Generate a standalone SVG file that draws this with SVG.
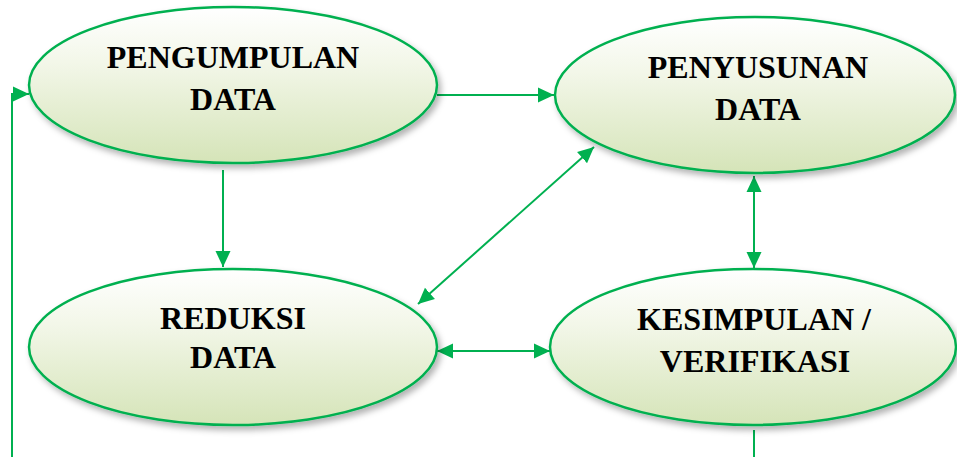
<svg xmlns="http://www.w3.org/2000/svg" width="957" height="457" viewBox="0 0 957 457">
<defs>
<linearGradient id="g" x1="0" y1="0" x2="0" y2="1">
<stop offset="0" stop-color="#ffffff"/>
<stop offset="0.35" stop-color="#f3f7e9"/>
<stop offset="1" stop-color="#d5e4b8"/>
</linearGradient>
<filter id="sh" x="-10%" y="-10%" width="125%" height="130%">
<feDropShadow dx="3" dy="4" stdDeviation="3" flood-color="#000" flood-opacity="0.3"/>
</filter>
<marker id="ah" markerUnits="userSpaceOnUse" markerWidth="16" markerHeight="16" viewBox="0 0 16 16" refX="16" refY="8" orient="auto-start-reverse">
<path d="M0,0.5 L16,8 L0,15.5 Z" fill="#00b050"/>
</marker>
<style>
.node ellipse{fill:url(#g);stroke:#00b050;stroke-width:2.5;filter:url(#sh)}
.node text{font-family:"Liberation Serif","Times New Roman",serif;font-weight:bold;font-size:32px;fill:#000;text-anchor:middle}
.conn line,.conn polyline{stroke:#00b050;stroke-width:2;fill:none}
</style>
</defs>
<g class="conn">
<line x1="437" y1="95" x2="554" y2="95" marker-end="url(#ah)"/>
<line x1="223" y1="170" x2="223" y2="267" marker-end="url(#ah)"/>
<polyline points="12,457 12,94 29,94" marker-end="url(#ah)"/>
<line x1="754" y1="430" x2="754" y2="457"/>
<line x1="418" y1="304" x2="594" y2="147" marker-start="url(#ah)" marker-end="url(#ah)"/>
<line x1="754" y1="176" x2="754" y2="268" marker-start="url(#ah)" marker-end="url(#ah)"/>
<line x1="437" y1="351" x2="550" y2="351" marker-start="url(#ah)" marker-end="url(#ah)"/>
</g>
<g id="pengumpulan" class="node">
<ellipse cx="233" cy="85" rx="204" ry="78"/>
<text x="233" y="68">PENGUMPULAN</text>
<text x="233" y="110">DATA</text>
</g>
<g id="penyusunan" class="node">
<ellipse cx="755" cy="95" rx="200" ry="78"/>
<text x="758" y="78">PENYUSUNAN</text>
<text x="758" y="120">DATA</text>
</g>
<g id="reduksi" class="node">
<ellipse cx="233" cy="347" rx="204" ry="78"/>
<text x="233" y="329">REDUKSI</text>
<text x="233" y="368">DATA</text>
</g>
<g id="kesimpulan" class="node">
<ellipse cx="753" cy="347" rx="203" ry="78"/>
<text x="754" y="330">KESIMPULAN /</text>
<text x="755" y="372">VERIFIKASI</text>
</g>
</svg>
